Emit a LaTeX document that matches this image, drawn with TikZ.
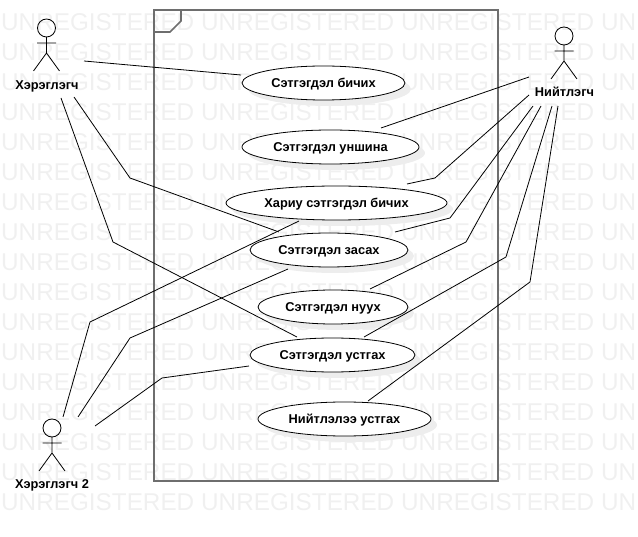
\documentclass[tikz,border=0pt]{standalone}
\usepackage{fontspec}
\setmainfont{Liberation Sans}
\usetikzlibrary{shapes.geometric,shadows}
\definecolor{wm}{HTML}{F0F0F0}
\definecolor{framec}{HTML}{6E6E6E}
\tikzset{
  usecase/.style={ellipse,draw=black,line width=0.8pt,fill=white,inner sep=0pt,text height=9pt,text depth=0pt,font=\fontsize{12.8}{14}\selectfont\bfseries,
    drop shadow={shadow xshift=6pt,shadow yshift=-6pt,fill=black!7,opacity=1}},
  actorbox/.style={inner sep=0pt,draw=none},
  actorname/.style={inner sep=0pt,text height=9pt,text depth=0pt,font=\fontsize{12.8}{14}\selectfont\bfseries},
  assoc/.style={draw=black,line width=0.8pt},
  figure/.style={draw=black,line width=0.8pt},
  watermark/.style={text=wm,anchor=west,inner sep=0pt,font=\fontsize{24.3}{26}\selectfont},
  frameline/.style={draw=framec,line width=1.6pt},
}
\newcommand{\stickman}[2]{%
  \begin{scope}[shift={(#1,#2)}]
    \draw[figure] (0,0) circle (9);
    \draw[figure] (0,9) -- (0,25) (-9.5,15) -- (9.5,15) (-13,43) -- (0,25) -- (13,43);
  \end{scope}}
\begin{document}
\begin{tikzpicture}[x=1pt,y=-1pt]
\useasboundingbox (0,0) rectangle (638,537);
\begin{scope}
\clip (0,0) rectangle (638,537);
\foreach \r in {0,...,16}{
  \foreach \c in {0,...,3}{
    \node[watermark] at ({1+200*\c},{22+30*\r}) {UNREGISTERED};
  }
}
\end{scope}
% boundary
\draw[frameline] (154,10) rectangle (498,481);
\draw[frameline] (154,32) -- (170,32) -- (181,21) -- (181,10);
% use cases
\node[usecase,minimum width=163pt,minimum height=34pt] (e1) at (323.5,83) {Сэтгэгдэл бичих};
\node[usecase,minimum width=177pt,minimum height=34pt] (e2) at (330.5,147) {Сэтгэгдэл уншина};
\node[usecase,minimum width=221pt,minimum height=34pt] (e3) at (336.5,203) {Хариу сэтгэгдэл бичих};
\node[usecase,minimum width=158pt,minimum height=34pt] (e4) at (329,250) {Сэтгэгдэл засах};
\node[usecase,minimum width=150pt,minimum height=34pt] (e5) at (333,307) {Сэтгэгдэл нуух};
\node[usecase,minimum width=165pt,minimum height=34pt] (e6) at (332.5,355) {Сэтгэгдэл устгах};
\node[usecase,minimum width=173pt,minimum height=34pt] (e7) at (344.5,419) {Нийтлэлээ устгах};
% actors
\stickman{46.5}{28}
\stickman{564}{36}
\stickman{52}{428}
\node[actorbox,minimum width=70pt,minimum height=80pt] (a1) at (49,57) {};
\node[actorbox,minimum width=65pt,minimum height=82pt] (a3) at (564,65) {};
\node[actorbox,minimum width=80pt,minimum height=74pt] (a2) at (55,454) {};
\node[actorname] (n1) at (47,85) {Хэрэглэгч};
\node[actorname] (n3) at (564.5,92.5) {Нийтлэгч};
\node[actorname] (n2) at (52,484) {Хэрэглэгч 2};
% bend points
\coordinate (b1) at (130,178);
\coordinate (b2) at (113,242);
\coordinate (b3) at (90,322);
\coordinate (b4) at (130,338);
\coordinate (b5) at (162,378);
\coordinate (b6) at (435,178);
\coordinate (b7) at (450,218);
\coordinate (b8) at (466,242);
\coordinate (b9) at (506,257);
\coordinate (b10) at (530,282);
% associations
\draw[assoc] ([shift={(35,4)}]a1.center) -- ([shift={(-82.5,-8)}]e1.center);
\draw[assoc] ([shift={(25,40)}]a1.center) -- (b1) -- ([shift={(-50,-18)}]e4.center);
\draw[assoc] ([shift={(12,41)}]a1.center) -- (b2) -- ([shift={(-35.5,-18)}]e6.center);
\draw[assoc] ([shift={(8,-37)}]a2.center) -- (b3) -- ([shift={(-37.5,18)}]e3.center);
\draw[assoc] ([shift={(23,-37)}]a2.center) -- (b4) -- ([shift={(-41,19)}]e4.center);
\draw[assoc] ([shift={(40,-28)}]a2.center) -- (b5) -- ([shift={(-83.5,11)}]e6.center);
\draw[assoc] ([shift={(-35,12)}]a3.center) -- ([shift={(50.5,-19)}]e2.center);
\draw[assoc] ([shift={(-35,30)}]a3.center) -- (b6) -- ([shift={(70.5,-19)}]e3.center);
\draw[assoc] ([shift={(-31,41)}]a3.center) -- (b7) -- ([shift={(66,-18)}]e4.center);
\draw[assoc] ([shift={(-23,41)}]a3.center) -- (b8) -- ([shift={(37,-18)}]e5.center);
\draw[assoc] ([shift={(-12,41)}]a3.center) -- (b9) -- ([shift={(31.5,-18)}]e6.center);
\draw[assoc] ([shift={(-6,41)}]a3.center) -- (b10) -- ([shift={(23.5,-18)}]e7.center);
\end{tikzpicture}
\end{document}
